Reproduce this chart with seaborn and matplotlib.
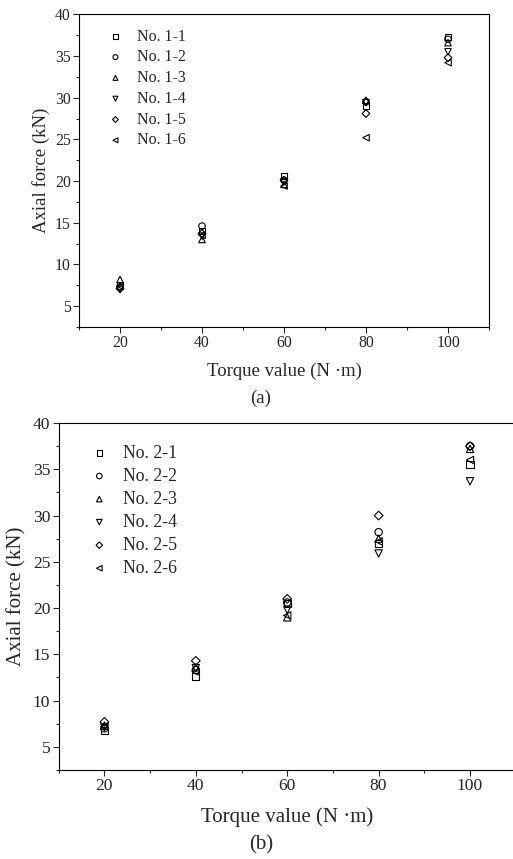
import matplotlib
matplotlib.use("Agg")
import matplotlib.pyplot as plt
import seaborn as sns
import pandas as pd
from matplotlib.ticker import MultipleLocator

torque = [20, 40, 60, 80, 100]

# Panel (a)
a_labels = ["No. 1-1", "No. 1-2", "No. 1-3", "No. 1-4", "No. 1-5", "No. 1-6"]
a_11 = [7.5, 14.0, 20.6, 29.0, 37.3]
a_12 = [7.3, 14.6, 20.1, 29.5, 37.0]
a_13 = [8.2, 13.0, 19.6, 29.7, 36.6]
a_14 = [7.0, 13.4, 19.9, 29.4, 35.5]
a_15 = [7.1, 13.7, 20.1, 28.1, 34.8]
a_16 = [7.4, 13.5, 19.4, 25.2, 34.2]

# Panel (b)
b_labels = ["No. 2-1", "No. 2-2", "No. 2-3", "No. 2-4", "No. 2-5", "No. 2-6"]
b_21 = [6.8, 12.6, 20.5, 27.0, 35.5]
b_22 = [7.0, 13.3, 20.6, 28.2, 37.5]
b_23 = [7.3, 13.6, 19.0, 27.5, 37.2]
b_24 = [7.1, 13.5, 19.8, 25.9, 33.7]
b_25 = [7.7, 14.3, 21.0, 30.0, 37.5]
b_26 = [7.2, 13.1, 19.2, 27.2, 36.0]

markers = ["s", "o", "^", "v", "D", "<"]
msizes = {"s": 1.0, "o": 1.0, "^": 1.0, "v": 1.0, "D": 0.7, "<": 1.0}

sns.set_style("ticks")
plt.rcParams["font.family"] = ["Liberation Serif", "DejaVu Serif"]
plt.rcParams["mathtext.fontset"] = "stix"

W, H = 513, 859
fig = plt.figure(figsize=(W / 100, H / 100), dpi=100)


def panel(rect, labels, series, tick_fs, label_fs, leg_fs, ms, leg_anchor, leg_space, tag, tag_y, xlab_pad, ylab_x):
    ax = fig.add_axes(rect)
    rows = []
    for lab, vals in zip(labels, series):
        for t, v in zip(torque, vals):
            rows.append({"Torque": t, "Force": v, "Specimen": lab})
    df = pd.DataFrame(rows)
    for lab, mk in zip(labels, markers):
        sub = df[df["Specimen"] == lab]
        sns.scatterplot(data=sub, x="Torque", y="Force", marker=mk, s=ms * msizes[mk],
                        facecolors="none", edgecolors="black", linewidths=0.8,
                        label=lab, ax=ax, legend=False)
    ax.set_xlim(10, 110)
    ax.set_ylim(2.5, 40)
    ax.xaxis.set_major_locator(MultipleLocator(20))
    ax.xaxis.set_minor_locator(MultipleLocator(10))
    ax.yaxis.set_major_locator(MultipleLocator(5))
    ax.yaxis.set_minor_locator(MultipleLocator(2.5))
    ax.set_yticks([5, 10, 15, 20, 25, 30, 35, 40])
    ax.tick_params(axis="both", which="major", direction="out", length=4, width=0.8,
                   labelsize=tick_fs, top=False, right=False, pad=2)
    ax.tick_params(axis="both", which="minor", direction="out", length=2.5, width=0.8,
                   top=False, right=False)
    for sp in ax.spines.values():
        sp.set_visible(True)
        sp.set_linewidth(0.8)
        sp.set_color("black")
    ax.set_xlabel("Torque value (N \u00b7m)", fontsize=label_fs, labelpad=xlab_pad)
    ax.set_ylabel("Axial force (kN)", fontsize=label_fs)
    ax.yaxis.set_label_coords(ylab_x, 0.5)
    handles, labs = ax.get_legend_handles_labels()
    ax.legend(handles, labs, loc="upper left", bbox_to_anchor=leg_anchor, frameon=False,
              fontsize=leg_fs, markerscale=0.75, handletextpad=0.75, labelspacing=leg_space,
              borderaxespad=0, handlelength=1.2)
    fig.text(261 / W, tag_y, tag, ha="center", va="center", fontsize=label_fs)
    return ax


ax1 = panel([79 / W, 1 - 327 / H, 410 / W, (327 - 14.3) / H], a_labels,
            [a_11, a_12, a_13, a_14, a_15, a_16],
            tick_fs=11.3, label_fs=13.5, leg_fs=11.5, ms=22,
            leg_anchor=(0.05, 0.975), leg_space=0.3, tag="(a)", tag_y=1 - 398 / H,
            xlab_pad=8, ylab_x=-0.07)

ax2 = panel([58.7 / W, 1 - 770 / H, 457 / W, (770 - 423) / H], b_labels,
            [b_21, b_22, b_23, b_24, b_25, b_26],
            tick_fs=12.6, label_fs=15, leg_fs=12.8, ms=28,
            leg_anchor=(0.05, 0.958), leg_space=0.34, tag="(b)", tag_y=1 - 845 / H,
            xlab_pad=9, ylab_x=-0.07)

fig.savefig("out.png", dpi=100)
